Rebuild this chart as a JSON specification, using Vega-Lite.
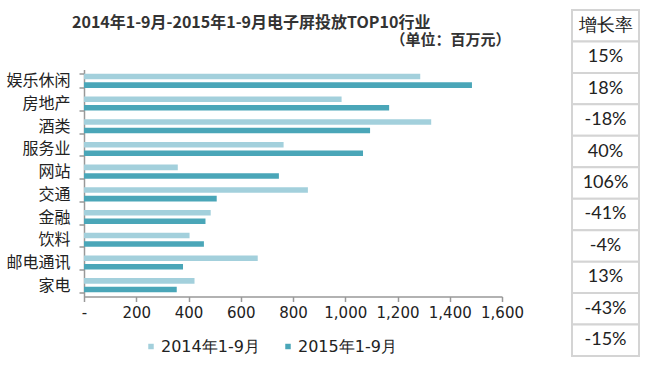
{
  "$schema": "https://vega.github.io/schema/vega-lite/v6.json",
  "background": "white",
  "padding": {"left": 5, "top": 9, "right": 5, "bottom": 5},
  "config": {"view": {"stroke": null}},
  "spacing": 70,
  "center": true,
  "bounds": "flush",
  "resolve": {"scale": {"color": "independent"}, "legend": {"color": "independent"}},
  "datasets": {
    "bars": [
      {"category": "娱乐休闲", "year": "2014年1-9月", "value": 1287},
      {"category": "娱乐休闲", "year": "2015年1-9月", "value": 1485},
      {"category": "房地产", "year": "2014年1-9月", "value": 986},
      {"category": "房地产", "year": "2015年1-9月", "value": 1168},
      {"category": "酒类", "year": "2014年1-9月", "value": 1329},
      {"category": "酒类", "year": "2015年1-9月", "value": 1095},
      {"category": "服务业", "year": "2014年1-9月", "value": 764},
      {"category": "服务业", "year": "2015年1-9月", "value": 1068},
      {"category": "网站", "year": "2014年1-9月", "value": 359},
      {"category": "网站", "year": "2015年1-9月", "value": 746},
      {"category": "交通", "year": "2014年1-9月", "value": 857},
      {"category": "交通", "year": "2015年1-9月", "value": 508},
      {"category": "金融", "year": "2014年1-9月", "value": 485},
      {"category": "金融", "year": "2015年1-9月", "value": 465},
      {"category": "饮料", "year": "2014年1-9月", "value": 404},
      {"category": "饮料", "year": "2015年1-9月", "value": 459},
      {"category": "邮电通讯", "year": "2014年1-9月", "value": 665},
      {"category": "邮电通讯", "year": "2015年1-9月", "value": 379},
      {"category": "家电", "year": "2014年1-9月", "value": 423},
      {"category": "家电", "year": "2015年1-9月", "value": 355}
    ],
    "growth": [
      {"row": 0, "label": "增长率"},
      {"row": 1, "label": "15%"},
      {"row": 2, "label": "18%"},
      {"row": 3, "label": "-18%"},
      {"row": 4, "label": "40%"},
      {"row": 5, "label": "106%"},
      {"row": 6, "label": "-41%"},
      {"row": 7, "label": "-4%"},
      {"row": 8, "label": "13%"},
      {"row": 9, "label": "-43%"},
      {"row": 10, "label": "-15%"}
    ]
  },
  "hconcat": [
    {
      "data": {"name": "bars"},
      "width": 418,
      "height": 227,
      "title": {
        "text": "2014年1-9月-2015年1-9月电子屏投放TOP10行业",
        "anchor": "start",
        "frame": "group",
        "dx": -12,
        "font": "Noto Sans CJK SC",
        "fontSize": 16,
        "fontWeight": "bold",
        "color": "#333333",
        "offset": 2
      },
      "encoding": {
        "y": {
          "field": "category",
          "type": "nominal",
          "sort": ["娱乐休闲", "房地产", "酒类", "服务业", "网站", "交通", "金融", "饮料", "邮电通讯", "家电"],
          "scale": {"paddingInner": 0.38, "paddingOuter": 0.19},
          "axis": {
            "title": null,
            "labelFont": "Noto Sans CJK SC",
            "labelFontSize": 16,
            "labelColor": "#222222",
            "domainColor": "#999999",
            "domainWidth": 1.5,
            "tickColor": "#999999",
            "tickWidth": 1.5,
            "tickBand": "extent",
            "tickSize": 5,
            "labelPadding": 9
          }
        },
        "yOffset": {
          "field": "year",
          "type": "nominal",
          "sort": ["2014年1-9月", "2015年1-9月"],
          "scale": {"paddingInner": 0.35}
        }
      },
      "layer": [
        {
          "mark": {"type": "bar"},
          "encoding": {
            "x": {
              "field": "value",
              "type": "quantitative",
              "scale": {"domain": [0, 1600], "nice": false},
              "axis": {
                "title": null,
                "grid": false,
                "values": [0, 200, 400, 600, 800, 1000, 1200, 1400, 1600],
                "labelExpr": "datum.value == 0 ? '-' : format(datum.value, ',')",
                "labelOverlap": false,
                "labelFlush": false,
                "labelFont": "DejaVu Sans",
                "labelFontSize": 15,
                "labelColor": "#222222",
                "domainColor": "#999999",
                "domainWidth": 1.5,
                "tickColor": "#999999",
                "tickWidth": 1.5,
                "tickSize": 5,
                "labelPadding": 4
              }
            },
            "color": {
              "field": "year",
              "type": "nominal",
              "sort": ["2014年1-9月", "2015年1-9月"],
              "scale": {"range": ["#a3d0dc", "#4aa6b8"]},
              "legend": {
                "title": null,
                "orient": "none",
                "legendX": 59,
                "legendY": 269,
                "direction": "horizontal",
                "symbolType": "square",
                "symbolSize": 30,
                "symbolStrokeWidth": 0,
                "labelOffset": 2,
                "labelFont": "DejaVu Sans",
                "labelFontSize": 16,
                "labelColor": "#222222",
                "columnPadding": 20
              }
            }
          }
        },
        {
          "mark": {"type": "bar", "opacity": 0},
          "encoding": {
            "x": {
              "field": "value",
              "type": "quantitative",
              "axis": {
                "orient": "top",
                "title": "（单位：百万元）",
                "titleAnchor": "end",
                "titleAlign": "right",
                "titleX": 426,
                "titleFont": "Noto Sans CJK SC",
                "titleFontSize": 15,
                "titleFontWeight": "bold",
                "titleColor": "#333333",
                "titlePadding": 22,
                "labels": false,
                "ticks": false,
                "domain": false,
                "grid": false
              }
            }
          }
        }
      ],
      "resolve": {"axis": {"x": "independent"}}
    },
    {
      "data": {"name": "growth"},
      "width": 67,
      "height": 346,
      "encoding": {
        "y": {
          "field": "row",
          "type": "ordinal",
          "scale": {"paddingInner": 0, "paddingOuter": 0},
          "axis": null
        }
      },
      "layer": [
        {
          "mark": {"type": "rect", "fill": "white", "stroke": "#d4d4d4", "strokeWidth": 2}
        },
        {
          "mark": {"type": "text", "font": "Lato", "fontSize": 18, "color": "#222222", "align": "center", "baseline": "middle"},
          "encoding": {"text": {"field": "label", "type": "nominal"}}
        }
      ]
    }
  ]
}
